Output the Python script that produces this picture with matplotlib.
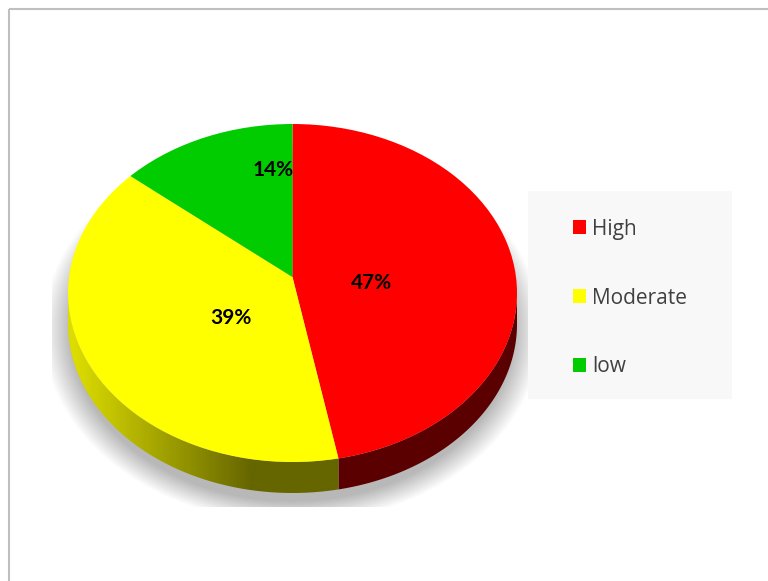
import numpy as np
import matplotlib.pyplot as plt
from matplotlib.patches import Rectangle, Polygon, Ellipse, Patch
from matplotlib.colors import to_rgb

labels = ["High", "Moderate", "low"]
shares = [47, 39, 14]
top_colors = ["#ff0000", "#ffff00", "#00cc00"]
# side colours (light end, dark end) for the 3D rim
side_colors = [("#640000", "#5a0000"), ("#dcdc00", "#666600"), ("#009900", "#004400")]

W, H = 768, 581
fig = plt.figure(figsize=(W / 100, H / 100), dpi=100)

# background layer in pixel coordinates
bg = fig.add_axes([0, 0, 1, 1])
bg.set_xlim(0, W)
bg.set_ylim(H, 0)
bg.axis("off")

# soft shadow under the pie
yy, xx = np.mgrid[0:H, 0:W] + 0.5
r = np.sqrt(((xx - 292) / 238) ** 2 + ((yy - 330) / 184) ** 2)
alpha = np.clip((1.05 - r) / 0.12, 0, 1) * 0.28
alpha[(yy > 507) | (xx < 52)] = 0
shadow = np.zeros((H, W, 4))
shadow[..., 3] = alpha
bg.imshow(shadow, extent=[0, W, H, 0], interpolation="bilinear", zorder=1)

# chart frame
bg.add_patch(Rectangle((9, 9), W, H, fill=False, edgecolor="#bfbfbf", linewidth=1.5, zorder=5))

# legend background
bg.add_patch(Rectangle((528, 191), 204, 208, facecolor="#f8f8f8", edgecolor="none", zorder=2))

# pie layer: unit circle squashed into an ellipse
cx, cy, a, b = 292.5, 293, 224.5, 169
depth = 31 / b
apex = 16 / b  # tilted view: the pie centre sits above the middle of the ellipse
ax = fig.add_axes([0, 0, 1, 1])
ax.patch.set_visible(False)

wedges, _ = ax.pie(shares, colors=top_colors, startangle=90, counterclock=False,
                   wedgeprops=dict(linewidth=0), radius=1.5, center=(0, apex))
ax.set_aspect("auto")
ax.set_xlim(-cx / a, (W - cx) / a)
ax.set_ylim(-(H - cy) / b, cy / b)
ax.axis("off")
rim = Ellipse((0, 0), 2, 2, facecolor="none", edgecolor="none")
ax.add_patch(rim)
for w in wedges:
    w.set_zorder(4)
    w.set_clip_on(True)
    w.set_clip_path(rim)


def rim_angle(theta):
    # where a wedge edge leaving the apex meets the outer rim
    d = np.array([np.cos(np.radians(theta)), np.sin(np.radians(theta))])
    p = np.array([0.0, apex])
    pd = p @ d
    s = -pd + np.sqrt(pd ** 2 - (p @ p - 1))
    q = p + s * d
    ang = np.degrees(np.arctan2(q[1], q[0]))
    return ang + 360 * np.round((theta - ang) / 360)


# front rim of each wedge (lower half of the ellipse only)
for w, (light, dark) in zip(wedges, side_colors):
    t0, t1 = rim_angle(w.theta1), rim_angle(w.theta2)
    for k in (-360, 0, 360, 720):
        lo, hi = max(t0 + k, 180), min(t1 + k, 360)
        if hi <= lo:
            continue
        t = np.radians(np.linspace(lo, hi, 120))
        top = np.column_stack([np.cos(t), np.sin(t)])
        bot = np.column_stack([np.cos(t), np.sin(t) - depth])[::-1]
        poly = Polygon(np.vstack([top, bot]), closed=True, facecolor="none", edgecolor="none")
        ax.add_patch(poly)
        # horizontal shading from the left edge toward the front
        xs = np.linspace(-1, 1, 400)
        px = cx + xs * a
        f = np.clip((px - 75) / (250 - 75), 0, 1)[None, :, None]
        grad = (1 - f) * np.array(to_rgb(light)) + f * np.array(to_rgb(dark))
        grad = np.repeat(grad, 2, axis=0)
        im = ax.imshow(grad, extent=[-1, 1, -1 - depth, 0], aspect="auto",
                       interpolation="bilinear", zorder=3)
        im.set_clip_path(poly)

# percentage labels
label_pos = [(371.5, 283.5), (231, 318), (273, 170)]
for share, (px, py) in zip(shares, label_pos):
    ax.text((px - cx) / a, (cy - py) / b, f"{share}%", ha="center", va="center",
            fontsize=15, fontweight="bold", family="Lato", color="black", zorder=6)

handles = [Patch(facecolor=w.get_facecolor(), linewidth=0) for w in wedges]
fig.legend(handles, labels, loc="center", bbox_to_anchor=(630 / W, 1 - 298 / H),
           frameon=False, prop={"family": "Open Sans", "size": 15}, labelcolor="#404040",
           handlelength=0.67, handleheight=0.67, handletextpad=0.29, labelspacing=2.30)

fig.savefig("out.png", dpi=100)
